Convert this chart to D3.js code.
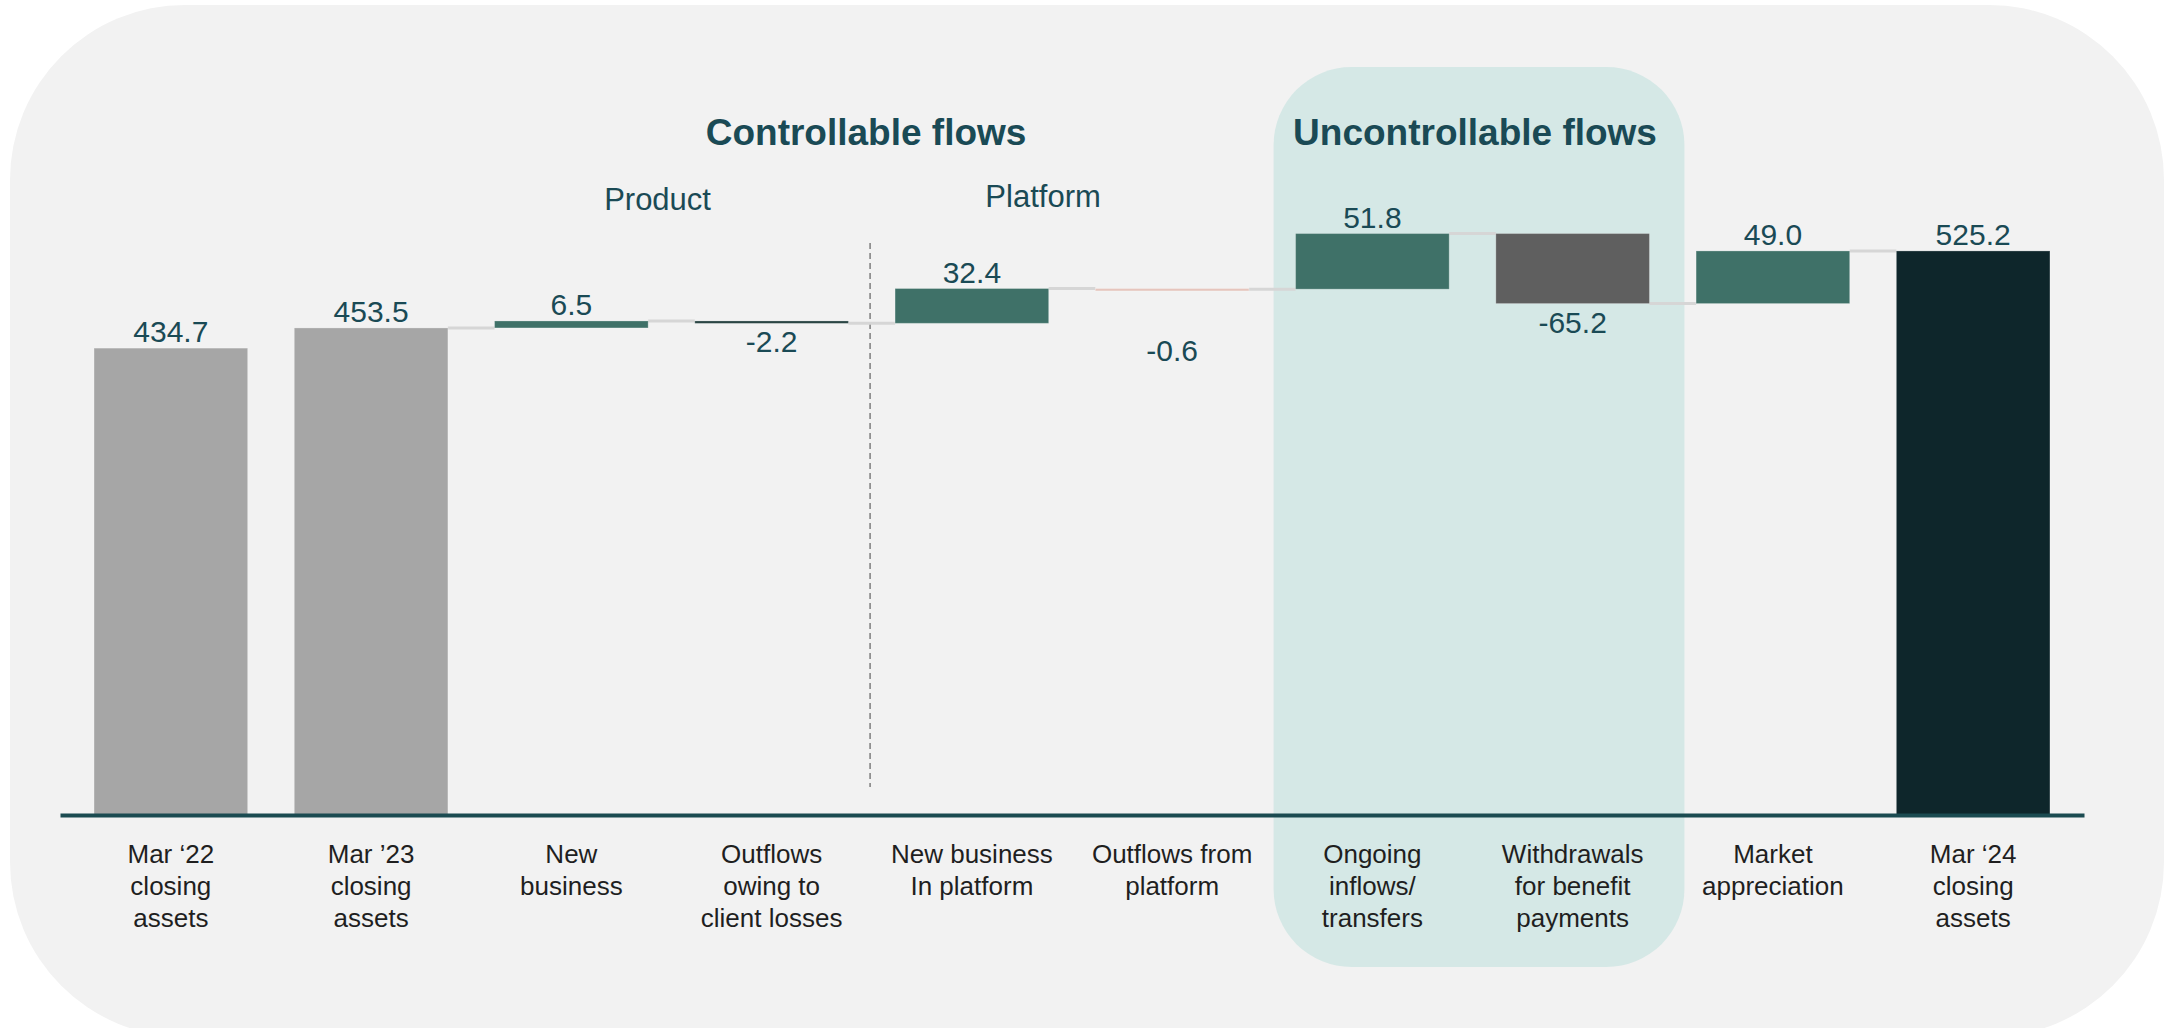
<!DOCTYPE html>
<html>
<head>
<meta charset="utf-8">
<script src="https://cdn.jsdelivr.net/npm/d3@7"></script>
<style>
  html, body { margin: 0; padding: 0; background: #ffffff; }
  svg { display: block; font-family: "Liberation Sans", Arial, sans-serif; }
</style>
</head>
<body>
<svg id="chart" width="2173" height="1028"></svg>
<script>
// Chart data
const categories = [
  "Mar ‘22 closing assets", "Mar ’23 closing assets", "New business",
  "Outflows owing to client losses", "New business In platform", "Outflows from platform",
  "Ongoing inflows/ transfers", "Withdrawals for benefit payments", "Market appreciation",
  "Mar ‘24 closing assets"
];
const categoryLines = [
  ["Mar ‘22", "closing", "assets"],
  ["Mar ’23", "closing", "assets"],
  ["New", "business"],
  ["Outflows", "owing to", "client losses"],
  ["New business", "In platform"],
  ["Outflows from", "platform"],
  ["Ongoing", "inflows/", "transfers"],
  ["Withdrawals", "for benefit", "payments"],
  ["Market", "appreciation"],
  ["Mar ‘24", "closing", "assets"]
];
const values = [434.7, 453.5, 6.5, -2.2, 32.4, -0.6, 51.8, -65.2, 49.0, 525.2];
const barKinds = ["total", "total", "flow", "flow", "flow", "flow", "flow", "flow", "flow", "total"];
const groupTitles = ["Controllable flows", "Uncontrollable flows"];
const subTitles = ["Product", "Platform"];

// Styles
const barColor = {
  "Mar ‘22 closing assets": "#a6a6a6",
  "Mar ’23 closing assets": "#a6a6a6",
  "Outflows owing to client losses": "#24403f",
  "Outflows from platform": "#e6c5bd",
  "Withdrawals for benefit payments": "#5f5f5f",
  "Mar ‘24 closing assets": "#0e262b"
};
const flowColor = "#3f7168";
const textTeal = "#1a4a55";
const labelExtraDy = { "Outflows from platform": 43 };

const svg = d3.select("#chart");

// background panel
svg.append("rect")
  .attr("x", 10).attr("y", 5)
  .attr("width", 2154).attr("height", 1032)
  .attr("rx", 175).attr("ry", 175)
  .attr("fill", "#f2f2f2");

const x = d3.scaleBand()
  .domain(categories)
  .range([60, 2084])
  .paddingInner(0.233)
  .paddingOuter(0.17);

const baseY = 815;
const y = d3.scaleLinear().domain([0, 600]).range([baseY, baseY - 600 * 1.074]);

// waterfall geometry
let running = 0;
const bars = categories.map((c, i) => {
  let start, end;
  if (barKinds[i] === "total") {
    start = 0; end = values[i];
    running = values[i];
  } else {
    start = running; end = running + values[i];
    running = end;
  }
  return { cat: c, value: values[i], kind: barKinds[i], start, end, level: running };
});

// uncontrollable flows highlight box
const boxX0 = x(categories[6]) - 22;
const boxX1 = x(categories[7]) + x.bandwidth() + 35;
svg.append("rect")
  .attr("x", boxX0).attr("y", 67)
  .attr("width", boxX1 - boxX0).attr("height", 900)
  .attr("rx", 78).attr("ry", 78)
  .attr("fill", "#d5e8e6");

// divider between product and platform
const divX = x(categories[4]) - 25;
svg.append("line")
  .attr("x1", divX).attr("x2", divX)
  .attr("y1", 243).attr("y2", 787)
  .attr("stroke", "#6b6b6b")
  .attr("stroke-width", 1.3)
  .attr("stroke-dasharray", "6,4");

// connectors
bars.forEach((b, i) => {
  if (i === 0 || i === bars.length - 1) return;
  const next = categories[i + 1];
  svg.append("line")
    .attr("x1", x(b.cat) + x.bandwidth())
    .attr("x2", x(next))
    .attr("y1", y(b.level)).attr("y2", y(b.level))
    .attr("stroke", "#d6d6d6")
    .attr("stroke-width", 3);
});

// bars
svg.selectAll(".bar")
  .data(bars)
  .join("rect")
  .attr("class", "bar")
  .attr("x", (d) => x(d.cat))
  .attr("width", x.bandwidth())
  .attr("y", (d) => y(Math.max(d.start, d.end)))
  .attr("height", (d) => Math.max(2.4, Math.abs(y(d.start) - y(d.end))))
  .attr("fill", (d) => barColor[d.cat] || flowColor)
  .attr("stroke", "#ffffff")
  .attr("stroke-opacity", 0.25)
  .attr("stroke-width", 1);

// value labels
svg.selectAll(".val")
  .data(bars)
  .join("text")
  .attr("class", "val")
  .attr("x", (d) => x(d.cat) + x.bandwidth() / 2)
  .attr("y", (d) => d.value >= 0
    ? y(Math.max(d.start, d.end)) - 6
    : y(Math.min(d.start, d.end)) + 29 + (labelExtraDy[d.cat] || 0))
  .attr("text-anchor", "middle")
  .attr("font-size", 30)
  .attr("fill", textTeal)
  .text((d) => d.value.toFixed(1));

// x axis
const xAxis = d3.axisBottom(x).tickSize(0).tickSizeOuter(0).tickFormat("");
const axisG = svg.append("g")
  .attr("class", "x-axis")
  .attr("transform", `translate(0,${baseY})`)
  .call(xAxis);
axisG.select(".domain")
  .attr("stroke", "#1b4b51")
  .attr("stroke-width", 4);

axisG.selectAll(".tick")
  .each(function (d, i) {
    const t = d3.select(this).append("text")
      .attr("text-anchor", "middle")
      .attr("font-size", 26)
      .attr("fill", "#1f1f1f")
      .attr("y", 48);
    categoryLines[i].forEach((line, j) => {
      t.append("tspan")
        .attr("x", 0)
        .attr("dy", j === 0 ? 0 : 32)
        .text(line);
    });
  });

// group titles
svg.append("text")
  .attr("x", divX - 4)
  .attr("y", 145)
  .attr("text-anchor", "middle")
  .attr("font-size", 37)
  .attr("font-weight", "bold")
  .attr("fill", textTeal)
  .text(groupTitles[0]);

svg.append("text")
  .attr("x", (boxX0 + boxX1) / 2 - 4)
  .attr("y", 145)
  .attr("text-anchor", "middle")
  .attr("font-size", 37)
  .attr("font-weight", "bold")
  .attr("fill", textTeal)
  .text(groupTitles[1]);

svg.append("text")
  .attr("x", x(categories[2]) + 163)
  .attr("y", 210)
  .attr("text-anchor", "middle")
  .attr("font-size", 31)
  .attr("fill", textTeal)
  .text(subTitles[0]);

svg.append("text")
  .attr("x", x(categories[4]) + 148)
  .attr("y", 207)
  .attr("text-anchor", "middle")
  .attr("font-size", 31)
  .attr("fill", textTeal)
  .text(subTitles[1]);
</script>
</body>
</html>
